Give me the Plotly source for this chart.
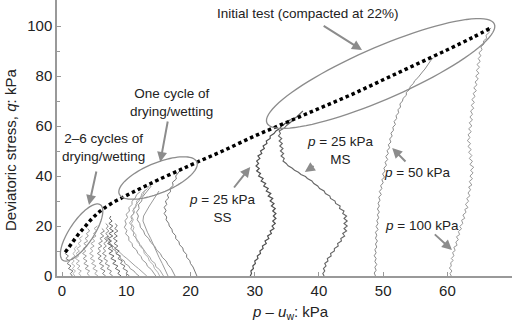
import math
import plotly.graph_objects as go

# ---------------- data ----------------
fail_x = [0.5, 1.5, 2.5, 3.5, 4.5, 5.5, 6.5, 8.0, 9.5, 11.0, 13.0, 15.0, 18.0, 21.0, 25.0, 30.0, 35.0, 40.0, 45.0, 50.0, 55.0, 60.0, 64.0, 66.8]
fail_y = [9.5, 13.0, 16.5, 19.5, 22.5, 25.0, 27.0, 29.5, 31.5, 33.5, 36.0, 38.5, 42.0, 45.5, 50.0, 56.0, 61.5, 67.0, 72.5, 78.5, 84.5, 90.5, 95.5, 99.3]

p100 = [(60.6, 0), (60.4, 1), (60.7, 2), (60.3, 3.2), (60.6, 4), (60.5, 5.3), (60.9, 6.2), (60.6, 7), (61.0, 8.1), (60.8, 9.4),
        (61.2, 10.2), (61.0, 11.5), (61.5, 12.3), (61.3, 13.6), (61.7, 14.5), (61.4, 15.7), (61.9, 16.6), (61.7, 17.8), (62.2, 18.9),
        (61.9, 19.8), (62.4, 21), (62.2, 22.3), (62.7, 23.1), (62.4, 24.4), (62.9, 25.5), (62.7, 26.6), (63.2, 27.4), (62.8, 28.7),
        (63.3, 29.9), (63.0, 31), (63.5, 32.1), (63.2, 33.2), (63.6, 34.5), (63.3, 35.6), (63.8, 36.4), (63.4, 37.8), (63.9, 38.9),
        (63.5, 40), (64.0, 41.2), (63.6, 42.3), (64.1, 43.5), (63.5, 44.6), (63.9, 45.9), (63.4, 47), (63.8, 48.2), (63.3, 49.5),
        (63.7, 50.6), (63.2, 51.8), (63.6, 53), (63.1, 54.1), (63.5, 55.4), (63.2, 56.5), (63.7, 57.7), (63.3, 58.9), (63.8, 60),
        (63.4, 61.3), (63.9, 62.4), (63.5, 63.6), (63.9, 64.7), (63.6, 66), (64.1, 67.1), (63.7, 68.3), (64.2, 69.4), (63.8, 70.6),
        (64.3, 71.8), (64.0, 73), (64.5, 74.1), (64.1, 75.3), (64.6, 76.5), (64.3, 77.6), (64.8, 78.8), (64.4, 80), (64.9, 81.1),
        (64.5, 82.3), (65.0, 83.5), (64.6, 84.6), (65.1, 85.8), (64.8, 87), (65.2, 88.1), (64.9, 89.3), (65.4, 90.5), (65.2, 91.6),
        (65.7, 92.8), (65.6, 94), (66.1, 95.1), (66.0, 96.3), (66.5, 97.4), (66.4, 98.3), (66.8, 99.2)]

p50 = [(48.8, 0), (48.6, 1.2), (48.9, 2.3), (48.7, 3.5), (49.0, 4.6), (48.7, 5.8), (48.9, 7), (48.6, 8.1), (48.9, 9.3), (48.7, 10.5),
       (49.0, 11.6), (48.8, 12.8), (49.1, 14), (48.8, 15.1), (49.0, 16.3), (48.8, 17.5), (49.2, 18.6), (48.9, 19.8), (49.2, 21),
       (49.0, 22.1), (49.3, 23.3), (49.1, 24.5), (49.4, 25.6), (49.1, 26.8), (49.4, 28), (49.2, 29.1), (49.5, 30.3), (49.3, 31.5),
       (49.7, 32.6), (49.4, 33.8), (49.8, 35), (49.6, 36.1), (50.0, 37.3), (49.8, 38.5), (50.2, 39.6), (49.9, 40.8), (50.3, 42),
       (50.1, 43.1), (50.5, 44.3), (50.3, 45.5), (50.7, 46.6), (50.4, 47.8), (50.8, 49), (50.6, 50.1), (51.0, 51.3), (50.8, 52.5),
       (51.2, 53.6), (51.0, 54.8), (51.4, 56), (51.2, 57.1), (51.6, 58.3), (51.5, 59.5), (51.9, 60.6), (51.7, 61.8), (52.1, 63),
       (52.0, 64.1), (52.4, 65.3), (52.3, 66.5), (52.7, 67.6), (52.6, 68.8), (53.0, 70), (53.1, 71.1), (53.6, 72.3), (53.6, 73.5),
       (54.1, 74.6), (54.2, 75.8), (54.7, 77), (54.9, 78.1), (55.4, 79.3), (55.7, 80.5), (56.1, 81.6), (56.5, 82.8), (56.8, 84),
       (57.2, 85.1), (57.4, 86.2), (57.8, 87.3)]

ss_25 = [(29.3, 0), (29.5, 1), (29.4, 2), (29.8, 3), (29.7, 4), (30.1, 5), (30.0, 6), (30.5, 7), (30.4, 8), (30.9, 9), (30.8, 10),
         (31.3, 11), (31.2, 12), (31.8, 13), (31.6, 14), (32.2, 15), (32.0, 16), (32.6, 17), (32.4, 18), (33.0, 19), (32.7, 20),
         (33.2, 21), (32.8, 22), (33.3, 23), (32.9, 24), (33.3, 25), (32.8, 26), (33.2, 27), (32.6, 28), (33.0, 29), (32.4, 30),
         (32.8, 31), (32.1, 32), (32.5, 33), (31.8, 34), (32.1, 35), (31.4, 36), (31.7, 37), (31.0, 38), (31.3, 39), (30.6, 40),
         (30.9, 41), (30.3, 42), (30.7, 43), (30.2, 44), (30.6, 45), (30.3, 46), (30.8, 47), (30.5, 48), (31.1, 49), (30.9, 50),
         (31.5, 51), (31.3, 52), (31.9, 53), (31.8, 54), (32.4, 55), (32.4, 56), (33.0, 57), (33.3, 58), (33.9, 59), (34.2, 60),
         (34.8, 61), (35.1, 61.8), (35.6, 62.6)]

ms_25 = [(40.8, 0), (40.6, 1), (40.9, 2), (40.7, 3), (41.1, 4), (40.9, 5), (41.4, 6), (41.3, 7), (41.9, 8), (41.8, 9), (42.4, 10),
         (42.4, 11), (43.0, 12), (42.9, 13), (43.5, 14), (43.4, 15), (44.0, 16), (43.7, 17), (44.3, 18), (43.9, 19), (44.4, 20),
         (43.9, 21), (44.4, 22), (43.9, 23), (44.3, 24), (43.7, 25), (43.9, 26), (43.2, 27), (43.3, 28), (42.6, 29), (42.5, 30),
         (41.8, 31), (41.7, 32), (41.0, 33), (40.8, 34), (40.1, 35), (39.8, 36), (39.2, 37), (38.9, 38), (38.2, 39), (37.9, 39.8),
         (37.2, 40.6), (36.8, 41.5), (36.2, 42.3), (35.8, 43.2), (35.2, 44.1), (34.9, 45), (34.4, 46), (34.6, 47), (34.1, 48),
         (34.5, 49), (34.0, 50), (34.4, 51), (33.9, 52), (34.3, 53), (33.8, 54), (34.2, 55), (33.7, 56), (34.0, 57), (33.8, 58),
         (34.6, 59.2), (35.0, 60.3), (35.6, 61.5), (36.0, 62.6), (36.6, 63.8), (37.0, 64.9), (37.5, 66)]

# one drying/wetting cycle
oc1 = [(21.0, 0), (20.8, 1.2), (20.5, 2.5), (20.4, 3.6), (20.0, 5), (19.9, 6.1), (19.4, 7.5), (19.4, 8.6), (18.9, 10), (18.8, 11.2),
       (18.3, 12.5), (18.2, 13.7), (17.7, 15), (17.7, 16.1), (17.2, 17.5), (17.1, 18.7), (16.7, 20), (16.6, 21.1), (16.2, 22.5),
       (16.3, 23.6), (15.9, 25), (16.2, 26.1), (15.9, 27.5), (16.3, 28.6), (16.1, 30), (16.6, 31.2), (16.4, 32.5), (16.9, 33.7),
       (16.8, 35), (17.3, 36.2), (17.2, 37.5), (17.8, 38.8), (17.7, 40), (18.4, 42.3)]
oc2 = [(15.8, 0), (15.5, 1.25), (15.2, 2.5), (14.6, 3.75), (14.5, 5), (13.9, 6.25), (13.7, 7.5), (13.2, 8.75), (12.9, 10),
       (12.5, 11.25), (12.2, 12.5), (11.7, 13.75), (11.6, 15), (11.1, 16.25), (11.2, 17.5), (10.7, 18.75), (10.9, 20), (10.5, 21.25),
       (10.9, 22.5), (10.7, 23.75), (11.2, 25), (11.0, 26.25), (11.5, 27.5), (11.5, 28.75), (12.0, 30), (12.1, 31.25), (12.6, 32.5),
       (12.8, 33.75), (13.3, 35), (13.6, 36.25), (14.1, 37.5)]
oc3 = [(14.6, 0), (14.2, 1.3), (13.9, 2.6), (13.3, 3.9), (13.1, 5.2), (12.5, 6.5), (12.3, 7.8), (11.8, 9.1), (11.6, 10.4), (11.0, 11.7),
       (10.9, 13), (10.4, 14.3), (10.4, 15.6), (9.9, 16.9), (10.1, 18.2), (9.7, 19.5), (10.0, 20.8), (9.8, 22.1), (10.2, 23.4),
       (10.0, 24.7), (10.5, 26), (10.4, 27.3), (10.9, 28.6), (10.9, 29.9), (11.4, 31.2), (11.6, 32.5), (12.2, 33.8)]
oc4 = [(16.5, 0), (16.1, 2.5), (15.6, 5), (15.1, 7.5), (14.7, 10), (14.2, 12.5), (13.8, 15), (13.3, 17.5), (12.9, 20), (12.6, 22),
       (12.7, 24), (13.1, 26), (13.6, 28), (14.1, 30), (14.6, 32), (15.1, 34)]
oc5 = [(15.2, 0), (14.9, 1.5), (14.4, 3), (14.2, 4.5), (13.6, 6), (13.4, 7.5), (12.8, 9), (12.7, 10.5), (12.1, 12), (12.0, 13.5),
       (11.5, 15), (11.5, 16.5), (11.0, 18), (11.2, 19.5), (10.8, 21), (11.1, 22.5), (10.8, 24), (11.3, 25.5), (11.1, 27),
       (11.7, 28.5), (11.6, 30), (12.3, 31.5), (12.4, 33), (13.0, 34.5)]
oc6 = [(17.6, 0), (17.3, 1.5), (17.0, 3), (16.5, 4.5), (16.2, 6), (15.6, 7.5), (15.3, 9), (14.7, 10.5), (14.4, 12), (13.8, 13.5),
       (13.5, 15), (12.9, 16.5), (12.7, 18), (12.2, 19.5), (12.1, 21), (11.7, 22.5), (11.9, 24), (11.6, 25.5), (12.0, 27),
       (11.9, 28.5), (12.4, 30), (12.5, 31.5), (13.0, 33), (13.4, 34.5), (13.9, 36)]

# 2-6 drying/wetting cycles
k1_x = [1.6, 1.3, 1.7, 1.0, 1.4, 0.8, 1.2, 0.6, 1.0, 0.5, 0.7]
k2_x = [3.0, 2.6, 3.0, 2.4, 2.8, 2.2, 2.7, 2.1, 2.6, 2.2, 2.7, 2.3, 2.9, 2.5, 3.0, 2.7, 3.2]
k3_x = [4.3, 3.9, 4.3, 3.6, 4.1, 3.4, 3.9, 3.3, 3.8, 3.2, 3.7, 3.3, 3.9, 3.4, 4.0, 3.6, 4.1, 3.8, 4.3, 4.0]
k4_x = [5.6, 5.1, 5.5, 4.8, 5.3, 4.6, 5.1, 4.4, 4.9, 4.3, 4.8, 4.4, 5.0, 4.5, 5.1, 4.7, 5.3, 4.9, 5.4, 5.0, 5.5]
k5_x = [6.8, 6.3, 6.7, 6.0, 6.5, 5.8, 6.3, 5.6, 6.1, 5.5, 6.0, 5.6, 6.2, 5.7, 6.3, 5.9, 6.5, 6.0, 6.6, 6.2]
k6_x = [9.2, 8.7, 9.0, 8.3, 8.7, 7.9, 8.4, 7.6, 8.1, 7.3, 7.9, 7.2, 7.8, 7.1, 7.7, 7.2, 7.9, 7.3, 8.0, 7.4, 7.9, 7.3, 7.8, 7.4, 7.6]
k7_x = [10.5, 10.0, 10.2, 9.5, 9.8, 9.1, 9.4, 8.7, 9.1, 8.4, 8.9, 8.2, 8.7, 8.1, 8.6, 8.0, 8.6, 8.1, 8.7, 8.2, 8.6, 8.3]
k8_x = [12.0, 11.5, 11.2, 10.6, 10.4, 9.8, 9.7, 9.1, 9.0, 8.4, 8.4, 7.8, 7.9, 7.3, 7.5, 7.0, 7.3]
k9_x = [13.2, 12.8, 12.3, 11.9, 11.4, 11.0, 10.5, 10.1, 9.6, 9.2, 8.7, 8.4, 7.9, 7.6, 7.1, 6.9]
k10_x = [7.9, 7.4, 7.7, 7.0, 7.4, 6.7, 7.1, 6.5, 6.9, 6.3, 6.8, 6.4, 6.9, 6.5, 7.0, 6.6, 7.2, 6.8, 7.3, 6.9, 7.2, 6.8]
k11_x = [2.0, 1.7, 2.1, 1.6, 2.0, 1.5, 1.9, 1.5, 2.0, 1.7, 2.1, 1.9, 2.3]
k_levels = [0, 1, 2, 3, 4, 5, 6, 7, 8, 9, 10, 11, 12, 13, 14, 15, 16, 17, 18, 19, 20, 21, 22, 23, 24]

x_ticks = [0, 10, 20, 30, 40, 50, 60, 70]
y_ticks = [0, 20, 40, 60, 80, 100]
y_minor = [10, 30, 50, 70, 90]

# ---------------- figure ----------------
X_RANGE = [-0.78, 70.05]
Y_RANGE = [0, 110.4]
W, H = 520, 327
ML, MR, MT, MB = 57, 8, 0, 51
PX_X = (W - ML - MR) / (X_RANGE[1] - X_RANGE[0])
PX_Y = (H - MT - MB) / (Y_RANGE[1] - Y_RANGE[0])

fig = go.Figure()


def add_path(xs, ys, col, w=1.0):
    fig.add_trace(go.Scatter(x=xs, y=ys, mode="lines", line=dict(color=col, width=w), hoverinfo="skip"))


def add_pairs(pairs, col, w=1.0):
    add_path([p[0] for p in pairs], [p[1] for p in pairs], col, w)


for kx, col in [(k2_x, "#b0b0b0"), (k11_x, "#b5b5b5"), (k4_x, "#a8a8a8"), (k9_x, "#a0a0a0"), (k8_x, "#999999"),
                (k3_x, "#9a9a9a"), (k5_x, "#888888"), (k10_x, "#8a8a8a"), (k7_x, "#777777"), (k6_x, "#666666"),
                (k1_x, "#777777")]:
    add_path(kx, k_levels[:len(kx)], col)

add_pairs(oc5, "#b0b0b0")
add_pairs(oc2, "#a5a5a5")
add_pairs(oc3, "#999999")
add_pairs(oc6, "#909090")
add_pairs(oc4, "#9a9a9a")
add_pairs(oc1, "#777777")
add_pairs(ss_25, "#505050", 1.2)
add_pairs(ms_25, "#666666", 1.1)
add_pairs(p50, "#8a8a8a")
add_pairs(p100, "#999999")

fig.add_trace(go.Scatter(x=fail_x, y=fail_y, mode="lines",
                         line=dict(color="black", width=3.5, dash="3.5px,3px", shape="spline"),
                         hoverinfo="skip"))


def ellipse_path(cx, cy, a_px, b_px, ang_deg, n=90):
    th = math.radians(ang_deg)
    pts = []
    for i in range(n + 1):
        t = 2 * math.pi * i / n
        dx = a_px * math.cos(t) * math.cos(th) - b_px * math.sin(t) * math.sin(th)
        dy = a_px * math.cos(t) * math.sin(th) + b_px * math.sin(t) * math.cos(th)
        pts.append((cx + dx / PX_X, cy + dy / PX_Y))
    return "M " + " L ".join(f"{x:.3f},{y:.3f}" for x, y in pts) + " Z"


ellipses = [
    (3.05, 17.4, 33.5, 12, 56),
    (14.95, 39.2, 42, 15, 22.5),
    (49.6, 81.0, 124, 26, 23.5),
]
for cx, cy, a, b, ang in ellipses:
    fig.add_shape(type="path", path=ellipse_path(cx, cy, a, b, ang),
                  xref="x", yref="y", line=dict(color="#8c8c8c", width=1.3))

arrows = [
    (40.5, 100.4, 46.7, 90.4),
    (16.5, 62.4, 15.3, 45.6),
    (5.4, 42.4, 4.2, 28.4),
    (26.6, 34.8, 29.3, 43.6),
    (39.4, 44.4, 37.8, 41.6),
    (53.7, 45.2, 51.4, 51.2),
    (57.8, 17.2, 60.7, 10.4),
]
for tx, ty, hx, hy in arrows:
    fig.add_annotation(x=hx, y=hy, ax=tx, ay=ty, xref="x", yref="y", axref="x", ayref="y",
                       text="", showarrow=True, arrowhead=2, arrowsize=1,
                       arrowwidth=2, arrowcolor="#8c8c8c")

labels = [
    (38.3, 105.2, "Initial test (compacted at 22%)"),
    (17.1, 69.6, "One cycle of<br>drying/wetting"),
    (6.4, 51.6, "2–6 cycles of<br>drying/wetting"),
    (24.9, 27.2, "<i>p</i> = 25 kPa<br>SS"),
    (43.3, 50.4, "<i>p</i> = 25 kPa<br>MS"),
    (55.3, 41.6, "<i>p</i> = 50 kPa"),
    (56.0, 20.4, "<i>p</i> = 100 kPa"),
]
for x, y, t in labels:
    fig.add_annotation(x=x, y=y, xref="x", yref="y", text=t, showarrow=False,
                       xanchor="center", yanchor="middle",
                       font=dict(size=13.5, color="#222"), align="center")

fig.add_annotation(x=(10 - ML) / (W - ML - MR), y=(H - MB - 150) / (H - MT - MB),
                   xref="paper", yref="paper", text="Deviatoric stress, <i>q</i>: kPa",
                   xanchor="center", yanchor="middle",
                   textangle=-90, showarrow=False, font=dict(size=15, color="#222"))
fig.add_annotation(x=(290 - ML) / (W - ML - MR), y=(H - MB - 312) / (H - MT - MB),
                   xref="paper", yref="paper", text="<i>p</i> – <i>u</i><sub>w</sub>: kPa",
                   xanchor="center", yanchor="middle",
                   showarrow=False, font=dict(size=15, color="#222"))

fig.update_layout(
    width=W, height=H, margin=dict(l=ML, r=MR, t=MT, b=MB),
    plot_bgcolor="white", paper_bgcolor="white", showlegend=False,
    font=dict(family="Liberation Sans, Arial, sans-serif", size=15, color="#222"),
)
fig.update_xaxes(range=X_RANGE, tickvals=x_ticks, ticks="inside", ticklen=4, tickcolor="#999",
                 showline=True, linecolor="#999", linewidth=1.5, showgrid=False, zeroline=False,
                 tickfont=dict(size=15, color="#222"))
fig.update_yaxes(range=Y_RANGE, tickvals=y_ticks, ticks="inside", ticklen=4, tickcolor="#999",
                 minor=dict(tickvals=y_minor, ticks="inside", ticklen=3, tickcolor="#999"),
                 showline=True, linecolor="#999", linewidth=1.5, showgrid=False, zeroline=False,
                 tickfont=dict(size=15, color="#222"))

fig.write_html("out.html")
